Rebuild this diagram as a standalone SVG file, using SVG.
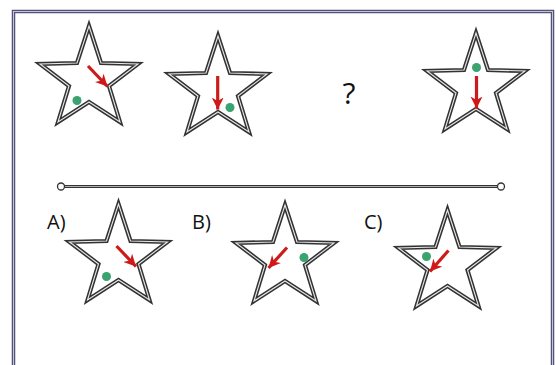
<svg xmlns="http://www.w3.org/2000/svg" xmlns:xlink="http://www.w3.org/1999/xlink" width="556" height="365" viewBox="0 0 556 365">
  <style>
    .star-o { fill: #ffffff; stroke: #333333; stroke-width: 4.2; stroke-linejoin: miter; }
    .star-i { fill: none; stroke: #e8e8e8; stroke-width: 1.1; stroke-linejoin: miter; }
    .arrow { stroke: #cc1b1b; stroke-width: 3.2; fill: none; marker-end: url(#ah); }
    .dot { fill: #3aa36f; }
    .lbl { font-family: "Open Sans", "Liberation Sans", sans-serif; font-size: 20px; fill: #111111; }
    .q { font-family: "Open Sans", "Liberation Sans", sans-serif; font-size: 30px; fill: #111111; }
  </style>
  <defs>
    <path id="star" d="M0,-54 L12,-17 L49,-16 L20,6 L31,42 L0,22 L-31,42 L-20,6 L-49,-16 L-12,-17 Z"/>
    <marker id="ah" viewBox="0 0 10 10" refX="10" refY="5" markerWidth="12" markerHeight="12" markerUnits="userSpaceOnUse" orient="auto">
      <path d="M0,0 L10,5 L0,10 L3,5 Z" fill="#d11818"/>
    </marker>
  </defs>

  <rect id="frame" x="13.5" y="11.5" width="539" height="400" fill="#ffffff" stroke="#52527a" stroke-width="3.5"/>
  <rect x="13.5" y="11.5" width="539" height="400" fill="none" stroke="#c4c4d8" stroke-width="1"/>

  <g id="star1">
    <use xlink:href="#star" href="#star" x="89" y="80" class="star-o"/>
    <use xlink:href="#star" href="#star" x="89" y="80" class="star-i"/>
    <circle class="dot" cx="77" cy="100.5" r="4.5"/>
    <path class="arrow" d="M88,66 L107.5,86.5"/>
  </g>
  <g id="star2">
    <use xlink:href="#star" href="#star" x="218" y="90" class="star-o"/>
    <use xlink:href="#star" href="#star" x="218" y="90" class="star-i"/>
    <circle class="dot" cx="230" cy="107.5" r="4.5"/>
    <path class="arrow" d="M217.7,76 L217.7,109.5"/>
  </g>
  <g id="question">
    <text class="q" x="349" y="104" text-anchor="middle">?</text>
  </g>
  <g id="star3">
    <use xlink:href="#star" href="#star" x="476" y="87" class="star-o"/>
    <use xlink:href="#star" href="#star" x="476" y="87" class="star-i"/>
    <circle class="dot" cx="476.5" cy="67.5" r="4.5"/>
    <path class="arrow" d="M476.5,76 L476.5,108.5"/>
  </g>

  <g id="connectors">
    <line x1="64.5" y1="186.5" x2="497.5" y2="186.5" stroke="#333333" stroke-width="3"/>
    <line x1="64.5" y1="186.5" x2="497.5" y2="186.5" stroke="#d0d0d0" stroke-width="0.8"/>
    <circle cx="61" cy="186.5" r="3.5" fill="#ffffff" stroke="#333333" stroke-width="1.3"/>
    <circle cx="501" cy="186.5" r="3.5" fill="#ffffff" stroke="#333333" stroke-width="1.3"/>
  </g>

  <g id="labelA"><text class="lbl" x="47" y="229">A)</text></g>
  <g id="labelB"><text class="lbl" x="192" y="229">B)</text></g>
  <g id="labelC"><text class="lbl" x="364" y="229">C)</text></g>

  <g id="optionA">
    <use xlink:href="#star" href="#star" x="118.5" y="258" class="star-o"/>
    <use xlink:href="#star" href="#star" x="118.5" y="258" class="star-i"/>
    <circle class="dot" cx="106.5" cy="276.5" r="4.5"/>
    <path class="arrow" d="M116.5,246 L136,266.5"/>
  </g>
  <g id="optionB">
    <use xlink:href="#star" href="#star" x="285" y="259" class="star-o"/>
    <use xlink:href="#star" href="#star" x="285" y="259" class="star-i"/>
    <circle class="dot" cx="304" cy="257.5" r="4.5"/>
    <path class="arrow" d="M287,247.5 L268.5,268"/>
  </g>
  <g id="optionC">
    <use xlink:href="#star" href="#star" x="447.5" y="264" class="star-o"/>
    <use xlink:href="#star" href="#star" x="447.5" y="264" class="star-i"/>
    <circle class="dot" cx="426.5" cy="256.5" r="4.5"/>
    <path class="arrow" d="M448.5,250.5 L430,271.5"/>
  </g>
</svg>
